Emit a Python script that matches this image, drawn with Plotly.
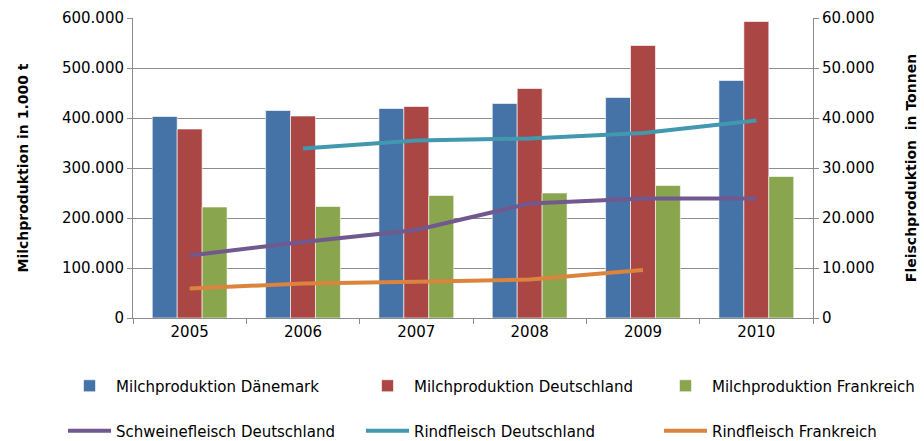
import plotly.graph_objects as go

years = ["2005", "2006", "2007", "2008", "2009", "2010"]
milch_daenemark = [403000, 415000, 419000, 429000, 441000, 475000]
milch_deutschland = [378000, 404000, 423000, 459000, 545000, 593000]
milch_frankreich = [222000, 223000, 245000, 250000, 265000, 283000]
schwein_deutschland = [12500, 15200, 17600, 22900, 23900, 23900]
rind_deutschland = [None, 33900, 35500, 35900, 37000, 39500]
rind_frankreich = [5900, 6900, 7250, 7700, 9600, None]

font_family = "DejaVu Sans, Liberation Sans, Arial, sans-serif"
fig = go.Figure()

bar_specs = [
    ("Milchproduktion Dänemark", milch_daenemark, "#4572A7", "legend"),
    ("Milchproduktion Deutschland", milch_deutschland, "#AA4643", "legend2"),
    ("Milchproduktion Frankreich", milch_frankreich, "#89A54E", "legend3"),
]
for name, vals, col, lg in bar_specs:
    fig.add_trace(go.Bar(x=years, y=vals, name=name, showlegend=True,
                         marker=dict(color=col, line=dict(color="rgba(255,255,255,0.6)", width=1)),
                         legend=lg))

line_specs = [
    ("Schweinefleisch Deutschland", schwein_deutschland, "#71588F", "legend4"),
    ("Rindfleisch Deutschland", rind_deutschland, "#4198AF", "legend5"),
    ("Rindfleisch Frankreich", rind_frankreich, "#DB843D", "legend6"),
]
for name, vals, col, lg in line_specs:
    fig.add_trace(go.Scatter(x=years, y=vals, name=name, mode="lines", yaxis="y2", showlegend=True,
                             line=dict(color=col, width=4), connectgaps=False, legend=lg))

grid = "#8c8c8c"
col_x = [-0.1029, 0.3353, 0.7735]
row_y = [-0.2267, -0.3767]


def leg(x, y):
    return dict(orientation="h", x=x, xanchor="left", y=y, yanchor="middle", itemwidth=43,
                font=dict(size=15), bgcolor="rgba(0,0,0,0)", visible=True)


fig.update_layout(
    width=924, height=441,
    showlegend=True,
    margin=dict(l=133, r=111, t=18, b=123, autoexpand=False),
    paper_bgcolor="white", plot_bgcolor="white",
    separators=",.",
    font=dict(family=font_family, size=15, color="#000"),
    barmode="group", bargap=0.34, bargroupgap=0,
    xaxis=dict(showline=True, linecolor=grid, linewidth=1, ticks="outside", tickson="boundaries",
               ticklen=5, tickcolor=grid, showgrid=False, tickfont=dict(size=15)),
    yaxis=dict(range=[0, 600000], dtick=100000, tickformat=",d", showgrid=True, gridcolor=grid, gridwidth=1,
               showline=True, linecolor=grid, ticks="outside", ticklen=5, tickcolor=grid, zeroline=False,
               title=dict(text="<b>Milchproduktion in 1.000 t</b>", font=dict(size=14), standoff=30),
               tickfont=dict(size=15)),
    yaxis2=dict(range=[0, 60000], dtick=10000, tickformat=",d", overlaying="y", side="right", showgrid=False,
                showline=True, linecolor=grid, ticks="outside", ticklen=5, tickcolor=grid, zeroline=False,
                title=dict(text="<b>Fleischproduktion\u00a0 in Tonnen</b>", font=dict(size=14), standoff=32),
                tickfont=dict(size=15)),
    legend=leg(col_x[0], row_y[0]),
    legend2=leg(col_x[1], row_y[0]),
    legend3=leg(col_x[2], row_y[0]),
    legend4=leg(col_x[0], row_y[1]),
    legend5=leg(col_x[1], row_y[1]),
    legend6=leg(col_x[2], row_y[1]),
)

fig.write_html("out.html")
